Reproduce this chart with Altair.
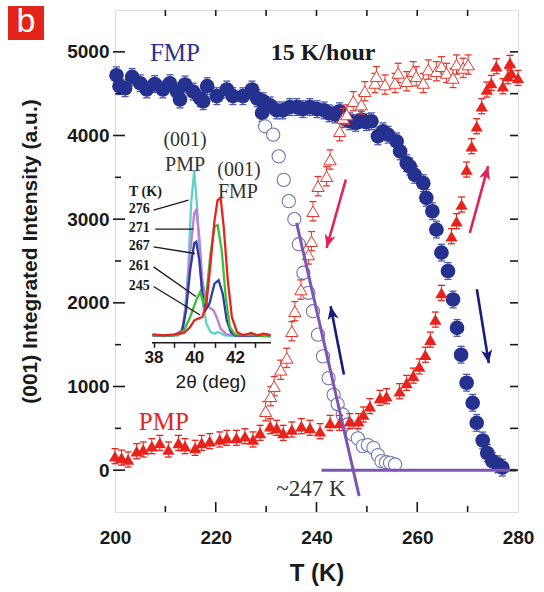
import math
import altair as alt
import pandas as pd

# ---------------- main panel data ----------------
fmp_filled_T = [200.3, 200.9, 202.0, 203.4, 205.0, 206.3, 207.9, 209.5, 210.9, 212.3,
                212.9, 213.9, 215.5, 216.9, 217.5, 218.3, 220.2, 222.2, 223.4, 225.4,
                227.2, 228.2, 229.2, 229.4, 230.8, 232.1, 233.3, 234.7, 236.1, 237.3,
                238.7, 240.1, 241.5, 242.5, 243.7, 244.6, 245.6, 246.6, 247.8, 248.9,
                249.9, 250.9, 252.2, 253.2, 254.2, 255.9, 256.6, 257.9, 258.5, 259.5,
                261.2, 261.8, 263.0, 263.8, 264.8, 266.1, 267.1, 267.9, 268.7, 269.8,
                271.0, 271.8, 273.0, 273.9, 274.9, 276.0, 276.9]
fmp_filled_I = [4720, 4590, 4565, 4700, 4625, 4550, 4615, 4550, 4625, 4525,
                4430, 4610, 4525, 4445, 4410, 4590, 4470, 4550, 4470, 4470,
                4550, 4445, 4270, 4410, 4360, 4300, 4300, 4340, 4340, 4315,
                4340, 4315, 4300, 4265, 4250, 4290, 4200, 4170, 4150, 4190,
                4160, 4170, 3990, 4050, 4010, 3930, 3810, 3670, 3630, 3530,
                3430, 3255, 3095, 2875, 2600, 2380, 2040, 1700, 1380, 1045,
                805, 565, 355, 205, 110, 70, 30]

fmp_open_T = [229.8, 231.4, 232.5, 233.5, 234.5, 235.6, 236.5, 237.4, 238.4, 239.3,
              240.3, 241.3, 242.4, 243.4, 244.2, 245.2, 246.2, 247.2, 248.2, 249.2,
              250.2, 251.3, 252.2, 252.9, 253.8, 254.6, 255.6]
fmp_open_I = [4110, 4010, 3750, 3470, 3215, 3000, 2700, 2360, 2120, 1900,
              1620, 1360, 1100, 900, 790, 665, 546, 427, 380, 287,
              300, 267, 180, 108, 95, 88, 68]

pmp_open_T = [229.9, 230.9, 231.6, 232.9, 234.1, 235.1, 235.7, 236.9, 238.4, 239.0,
              239.3, 240.3, 242.0, 242.7, 244.6, 245.3, 246.0, 247.3, 248.9, 249.6,
              251.6, 251.9, 253.6, 255.6, 256.2, 257.9, 259.2, 259.8, 261.2, 262.2,
              263.8, 264.8, 265.8, 267.1, 267.8, 269.1, 270.1]
pmp_open_I = [705, 884, 1004, 1200, 1342, 1661, 1900, 2159, 2578, 2737,
              3095, 3394, 3513, 3713, 4051, 4210, 4251, 4410, 4370, 4529,
              4628, 4708, 4609, 4628, 4748, 4649, 4768, 4708, 4628, 4788,
              4768, 4828, 4748, 4688, 4848, 4808, 4848]

pmp_filled_T = [200.0, 201.3, 202.6, 204.3, 205.6, 207.3, 208.9, 210.6, 212.6, 213.9,
                215.9, 217.2, 218.8, 220.8, 222.2, 224.1, 225.8, 227.4, 228.8, 230.8,
                232.1, 233.4, 235.1, 237.0, 238.7, 240.7, 242.7, 244.6, 246.6, 248.3,
                249.3, 250.6, 252.6, 253.9, 256.5, 257.9, 259.2, 260.4, 261.6, 262.6,
                263.6, 264.8, 266.8, 267.8, 268.8, 269.8, 270.8, 271.8, 272.8, 273.8,
                274.7, 275.7, 277.0, 278.0, 278.4, 278.7, 280.0]
pmp_filled_I = [167, 150, 128, 227, 247, 287, 326, 247, 326, 287,
                267, 326, 347, 367, 386, 386, 406, 367, 446, 526,
                506, 446, 486, 526, 506, 466, 565, 565, 586, 586,
                665, 765, 864, 884, 944, 1043, 1130, 1240, 1380, 1560,
                1800, 2119, 2796, 2976, 3175, 3593, 3872, 4111, 4350, 4549,
                4628, 4828, 4589, 4708, 4868, 4748, 4688]

# error half-widths (a.u.) read from the caps
err_fmp_filled = 100
err_fmp_open = 70
err_pmp_open = 115
err_pmp_filled = 90

# guide lines (purple) : start / end
guide_T0 = [236.05, 241.0]
guide_I0 = [2955, 0]
guide_T1 = [248.47, 279.7]
guide_I1 = [-311, 0]

# arrows : start -> tip
arrow_T0 = [245.83, 270.44, 245.44, 271.83]
arrow_I0 = [3474, 2836, 1144, 2163]
arrow_T1 = [242.0, 274.07, 242.8, 274.2]
arrow_I1 = [2657, 3633, 1960, 1279]
arrow_col = ["#e0245a", "#e0245a", "#161c7a", "#161c7a"]

# annotations
note_text = ["FMP", "15 K/hour", "PMP", "~247 K"]
note_T = [211.9, 241.3, 209.7, 238.9]
note_I = [4990, 4990, 570, -227]

# ---------------- inset data (2theta scans) ----------------
scan_labels = ["276", "271", "267", "261", "245"]
scan_colors = ["#62d0cc", "#c27bd0", "#2c3ca0", "#3cbf3c", "#e8231f"]
tt_276 = [37.95, 38.5, 39.0, 39.3, 39.5, 39.7, 39.85, 40.0, 40.15, 40.3, 40.45, 40.6, 40.8, 41.0, 41.2, 41.5, 42.0, 43.75]
ct_276 = [5, 3, 5, 10, 40, 200, 400, 500, 380, 200, 90, 40, 15, 10, 15, 5, 3, 3]
tt_271 = [37.95, 39.0, 39.4, 39.6, 39.8, 40.0, 40.1, 40.25, 40.4, 40.6, 40.8, 40.95, 41.1, 41.3, 41.6, 42.0, 43.75]
ct_271 = [5, 5, 20, 100, 250, 370, 380, 300, 170, 100, 85, 80, 60, 25, 8, 5, 3]
tt_267 = [37.95, 39.0, 39.4, 39.6, 39.8, 40.0, 40.1, 40.25, 40.4, 40.55, 40.75, 41.0, 41.2, 41.4, 41.6, 41.8, 42.0, 43.75]
ct_267 = [5, 5, 15, 80, 200, 280, 285, 230, 130, 80, 100, 160, 170, 130, 50, 15, 5, 3]
tt_261 = [37.95, 39.2, 39.5, 39.8, 40.1, 40.3, 40.45, 40.6, 40.8, 41.0, 41.15, 41.35, 41.55, 41.75, 42.0, 43.75]
ct_261 = [5, 5, 20, 60, 110, 135, 100, 130, 250, 330, 335, 260, 120, 30, 8, 3]
tt_245 = [37.95, 38.5, 39.0, 39.5, 39.8, 40.0, 40.2, 40.4, 40.6, 40.8, 41.0, 41.15, 41.3, 41.45, 41.65, 41.85, 42.1, 42.4, 42.8, 43.1, 43.4, 43.75]
ct_245 = [8, 5, 8, 12, 30, 50, 55, 60, 100, 220, 350, 410, 415, 330, 170, 60, 15, 5, 12, 5, 10, 6]
scan_tt = [tt_276, tt_271, tt_267, tt_261, tt_245]
scan_ct = [ct_276, ct_271, ct_267, ct_261, ct_245]

# inset labels and leader lines
lab_tt = [37.3, 37.3, 37.3, 37.3, 37.3]
lab_ct = [383, 326, 272, 213, 153]
lead_tt0 = [38.0, 38.08, 38.0, 38.0, 38.0]
lead_ct0 = [380, 323, 270, 210, 151]
lead_tt1 = [39.72, 39.96, 40.04, 40.08, 40.29]
lead_ct1 = [410, 323, 250, 121, 66]
inset_notes = ["(001)", "PMP", "(001)", "FMP"]
inset_notes_tt = [39.55, 39.55, 42.2, 42.15]
inset_notes_ct = [590, 515, 500, 434]

# ---------------- chart ----------------
W, H = 403, 502
SANS = "Liberation Sans"
SERIF = "Liberation Serif"
INK = "#1a1a1a"
XT = "T (K)"
YT = "(001) Integrated Intensity (a.u.)"

xsc = alt.Scale(domain=[200, 280], nice=False, zero=False)
ysc = alt.Scale(domain=[-500, 5500], nice=False, zero=False)
xax = alt.Axis(values=[200, 220, 240, 260, 280], format="d", ticks=False, tickSize=0, domain=False,
               grid=False, labelFont=SANS, labelFontSize=19, labelFontWeight="bold", labelColor=INK,
               labelPadding=16, labelFlush=False, title=XT, titleFont=SANS, titleFontSize=24,
               titleFontWeight="bold", titleColor=INK, titleX=W / 2, titleY=61,
               titleBaseline="middle", titleAlign="center")
yax = alt.Axis(values=[0, 1000, 2000, 3000, 4000, 5000], format="d", ticks=False, tickSize=0,
               domain=False, grid=False, labelFont=SANS, labelFontSize=19, labelFontWeight="bold",
               labelColor=INK, labelPadding=6, labelFlush=False, title=YT, titleFont=SANS,
               titleFontSize=21, titleFontWeight="bold", titleColor=INK, titleX=-85,
               titleY=241, titleAngle=270, titleBaseline="middle", titleAlign="center")


def X(f="T"):
    return alt.X(f"{f}:Q", scale=xsc, axis=xax)


def Y(f="I"):
    return alt.Y(f"{f}:Q", scale=ysc, axis=yax)


def series(T, I, err, color, ecolor, hollow, shape, size, sw, cap):
    df = pd.DataFrame({"T": T, "I": I})
    base = alt.Chart(df).transform_calculate(lo=f"datum.I - {err}", hi=f"datum.I + {err}")
    bar = base.mark_rule(color=ecolor, strokeWidth=1).encode(x=X(), y=Y("lo"), y2=alt.Y2("hi:Q"))
    cap1 = base.mark_tick(orient="horizontal", size=cap, thickness=1.3, color=ecolor, opacity=1).encode(x=X(), y=Y("hi"))
    cap2 = base.mark_tick(orient="horizontal", size=cap, thickness=1.3, color=ecolor, opacity=1).encode(x=X(), y=Y("lo"))
    if hollow:
        pts = base.mark_point(shape=shape, filled=True, fill="white", stroke=color, size=size,
                              opacity=1, strokeWidth=sw).encode(x=X(), y=Y())
    else:
        pts = base.mark_point(shape=shape, filled=True, size=size, color=color, opacity=1,
                              strokeWidth=0).encode(x=X(), y=Y())
    return [bar, cap1, cap2, pts]


layers = []
layers += series(fmp_filled_T, fmp_filled_I, err_fmp_filled, "#24318e", "#4a58a8", False, "circle", 215, 0, 7)
layers += series(fmp_open_T, fmp_open_I, err_fmp_open, "#6f7ab2", "#6f7ab2", True, "circle", 175, 1.1, 6)
layers += series(pmp_open_T, pmp_open_I, err_pmp_open, "#e2382e", "#e2382e", True, "triangle-up", 150, 1.0, 7)
layers += series(pmp_filled_T, pmp_filled_I, err_pmp_filled, "#e8221c", "#e8221c", False, "triangle-up", 150, 0, 7)

# purple guide lines
gdf = pd.DataFrame({"T": guide_T0, "I": guide_I0, "T1": guide_T1, "I1": guide_I1})
layers.append(alt.Chart(gdf).mark_rule(color="#7d55b2", strokeWidth=3).encode(
    x=X(), y=Y(), x2=alt.X2("T1:Q"), y2=alt.Y2("I1:Q")))

# arrows
pxK = W / 80.0
pxI = H / 6000.0
ang = []
for t0, i0, t1, i1 in zip(arrow_T0, arrow_I0, arrow_T1, arrow_I1):
    dx = (t1 - t0) * pxK
    dy = -(i1 - i0) * pxI
    ang.append((math.degrees(math.atan2(dx, -dy)) + 360) % 360)
adf = pd.DataFrame({"T": arrow_T0, "I": arrow_I0, "T1": arrow_T1, "I1": arrow_I1,
                    "col": arrow_col, "ang": ang})
layers.append(alt.Chart(adf).mark_rule(strokeWidth=2.6).encode(
    x=X(), y=Y(), x2=alt.X2("T1:Q"), y2=alt.Y2("I1:Q"), color=alt.Color("col:N", scale=None)))
layers.append(alt.Chart(adf).mark_point(shape="M0,0L0.8,1.9L0,1.4L-0.8,1.9Z", filled=True, size=196,
                                        opacity=1, strokeWidth=0).encode(
    x=X("T1"), y=Y("I1"), color=alt.Color("col:N", scale=None), angle=alt.Angle("ang:Q", scale=None)))

# annotations
ndf = pd.DataFrame({"T": note_T, "I": note_I, "txt": note_text,
                    "col": ["#2a3590", INK, "#e3261e", "#333333"],
                    "fs": [25, 24, 25, 23], "fw": ["normal", "bold", "normal", "normal"]})
for k in range(len(note_text)):
    layers.append(alt.Chart(ndf.iloc[[k]]).mark_text(font=SERIF, fontSize=int(ndf.fs[k]),
                                                     fontWeight=ndf.fw[k], color=ndf.col[k]).encode(
        x=X(), y=Y(), text="txt:N"))

# axis ticks (inward)
xt_major = pd.DataFrame({"T": [220, 240, 260]})
xt_minor = pd.DataFrame({"T": [210, 230, 250, 270]})
xt_top = pd.DataFrame({"T": [210, 220, 230, 240, 250, 260, 270]})
yt_major = pd.DataFrame({"I": [0, 1000, 2000, 3000, 4000, 5000]})
yt_minor = pd.DataFrame({"I": [500, 1500, 2500, 3500, 4500]})
yt_right = pd.DataFrame({"I": [0, 500, 1000, 1500, 2000, 2500, 3000, 3500, 4000, 4500, 5000]})
tk = dict(color=INK, strokeWidth=1.6)
layers.append(alt.Chart(xt_major).mark_rule(**tk).encode(x=X(), y=alt.value(H), y2=alt.value(H - 10)))
layers.append(alt.Chart(xt_minor).mark_rule(**tk).encode(x=X(), y=alt.value(H), y2=alt.value(H - 6)))
layers.append(alt.Chart(xt_top).mark_rule(**tk).encode(x=X(), y=alt.value(0), y2=alt.value(6)))
layers.append(alt.Chart(yt_major).mark_rule(**tk).encode(y=Y(), x=alt.value(-2), x2=alt.value(10)))
layers.append(alt.Chart(yt_minor).mark_rule(**tk).encode(y=Y(), x=alt.value(0), x2=alt.value(6)))
layers.append(alt.Chart(yt_right).mark_rule(**tk).encode(y=Y(), x=alt.value(W), x2=alt.value(W - 8)))

# panel letter box
layers.append(alt.Chart(pd.DataFrame({"k": [0]})).mark_rect(color="#e3241b").encode(
    x=alt.value(-107), x2=alt.value(-71), y=alt.value(-4), y2=alt.value(30)))
layers.append(alt.Chart(pd.DataFrame({"k": ["b"]})).mark_text(
    font=SANS, fontSize=34, color="white", baseline="middle", align="center").encode(
    x=alt.value(-89), y=alt.value(12), text="k:N"))

main = alt.layer(*layers)

# ---------------- inset ----------------
isx = alt.Scale(domain=[37.9, 43.75], range=[36.5, 155.5], nice=False, zero=False)
isy = alt.Scale(domain=[0, 500], range=[327, 160], nice=False, zero=False)
iax = alt.Axis(orient="bottom", offset=-169.7, values=[38, 39, 40, 41, 42, 43],
               labelExpr="datum.value % 2 == 0 ? datum.label : ''", grid=False,
               domain=True, domainColor=INK, domainWidth=1.6, tickColor=INK, tickWidth=1.5,
               tickSize=5, labelFont=SANS, labelFontSize=17, labelFontWeight="bold",
               labelColor=INK, labelPadding=2, labelFlush=False, title="2θ (deg)",
               titleFont=SANS, titleFontSize=19, titleFontWeight="normal", titleColor=INK,
               titleX=95.5, titleY=39, titleBaseline="middle", titleAlign="center")


def IX(f="d"):
    return alt.X(f"{f}:Q", scale=isx, axis=iax)


def IY(f="c"):
    return alt.Y(f"{f}:Q", scale=isy, axis=None)


ilayers = []
for lab, col, tt, ct in zip(scan_labels, scan_colors, scan_tt, scan_ct):
    df = pd.DataFrame({"d": tt, "c": ct})
    ilayers.append(alt.Chart(df).mark_line(color=col, strokeWidth=2.3).encode(x=IX(), y=IY()))

ldf = pd.DataFrame({"d": lead_tt0, "c": lead_ct0, "d1": lead_tt1, "c1": lead_ct1})
ilayers.append(alt.Chart(ldf).mark_rule(color=INK, strokeWidth=1.3).encode(
    x=IX(), y=IY(), x2=alt.X2("d1:Q"), y2=alt.Y2("c1:Q")))
tdf = pd.DataFrame({"d": lab_tt, "c": lab_ct, "t": scan_labels})
ilayers.append(alt.Chart(tdf).mark_text(font=SERIF, fontSize=14, fontWeight="bold", color=INK).encode(
    x=IX(), y=IY(), text="t:N"))
ilayers.append(alt.Chart(pd.DataFrame({"d": [37.6], "c": [434], "t": ["T (K)"]})).mark_text(
    font=SERIF, fontSize=14, fontWeight="bold", color=INK).encode(x=IX(), y=IY(), text="t:N"))
ndf2 = pd.DataFrame({"d": inset_notes_tt, "c": inset_notes_ct, "t": inset_notes})
ilayers.append(alt.Chart(ndf2).mark_text(font=SERIF, fontSize=20, color="#333333").encode(
    x=IX(), y=IY(), text="t:N"))

inset = alt.layer(*ilayers)

chart = alt.layer(main, inset).resolve_scale(x="independent", y="independent").properties(
    width=W, height=H,
    autosize=alt.AutoSizeParams(type="none"),
    padding={"left": 115, "top": 10, "right": 26, "bottom": 80},
).configure_view(stroke=INK, strokeWidth=2).configure(background="white")

chart.save("out.html", embed_options={"renderer": "svg", "actions": False})
